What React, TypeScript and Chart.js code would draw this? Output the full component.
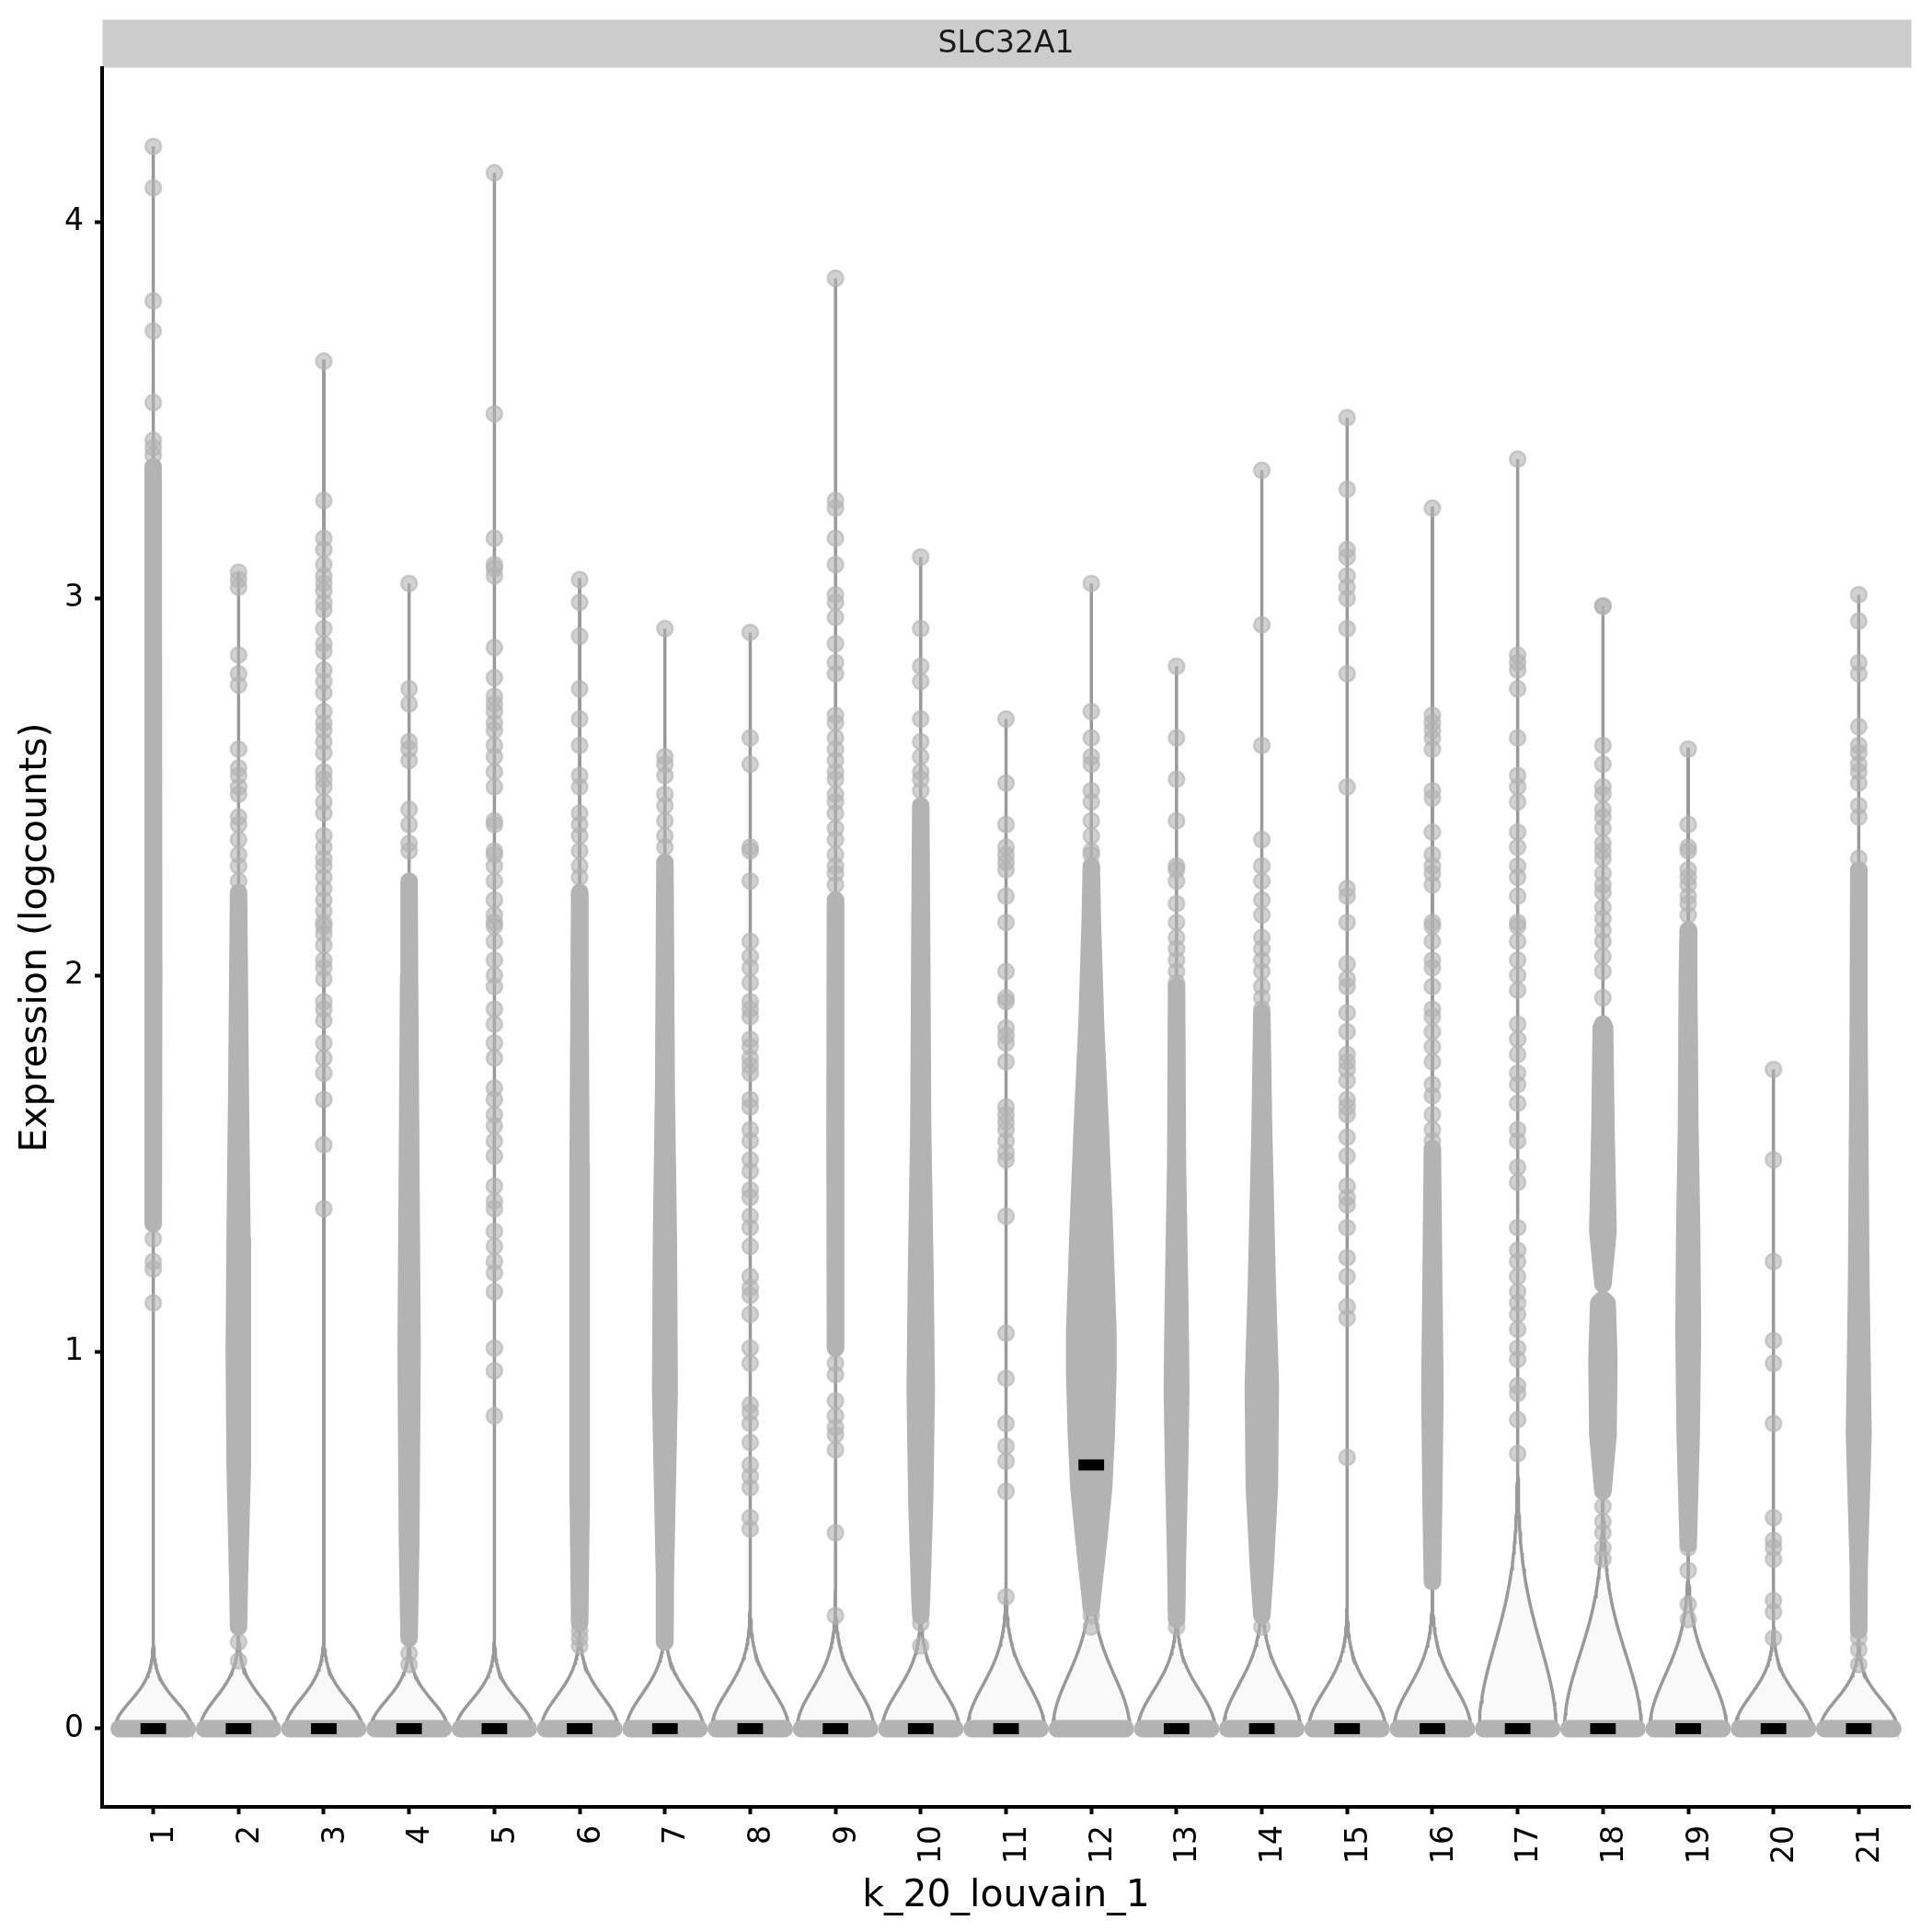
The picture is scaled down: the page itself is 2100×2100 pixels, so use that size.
import React, { useEffect, useRef } from "react";
import { Chart, registerables } from "chart.js";

Chart.register(...registerables);

// ---------------- data ----------------
const clusterLabels = ["1","2","3","4","5","6","7","8","9","10","11","12","13","14","15","16","17","18","19","20","21"];
const yTickValues = [0, 1, 2, 3, 4];
const stripTitle = "SLC32A1";
const xTitle = "k_20_louvain_1";
const yTitle = "Expression (logcounts)";

// median expression per cluster
const medianValues = [0,0,0,0,0,0,0,0,0,0,0,0.70,0,0,0,0,0,0,0,0,0];

// kernel bandwidth of the zero-spike in each violin (logcounts units)
const violinBandwidth = [0.072,0.08,0.078,0.074,0.074,0.085,0.09,0.1,0.105,0.1,0.115,0.14,0.1,0.115,0.1,0.11,0.22,0.195,0.14,0.087,0.075];

// individually visible (non-zero) cells per cluster
const sparsePoints: number[][] = [
  [4.20,4.09,3.79,3.71,3.52,3.42,3.40,3.38,1.30,1.24,1.22,1.13],
  [3.07,3.05,3.03,2.85,2.80,2.77,2.60,2.55,2.53,2.50,2.48,2.42,2.40,2.36,2.32,2.29,2.25,0.23,0.18],
  [3.63,3.26,3.16,3.13,3.09,3.06,3.04,3.02,2.99,2.97,2.92,2.88,2.86,2.81,2.78,2.75,2.70,2.67,2.65,2.62,2.59,2.54,2.52,2.50,2.46,2.43,2.37,2.34,2.31,2.29,2.26,2.23,2.20,2.17,2.14,2.13,2.11,2.08,2.04,2.02,1.99,1.93,1.91,1.88,1.82,1.78,1.74,1.67,1.55,1.38],
  [3.04,2.76,2.72,2.62,2.60,2.57,2.44,2.40,2.35,2.33,0.20,0.17],
  [4.13,3.49,3.16,3.09,3.08,3.06,2.87,2.79,2.74,2.72,2.70,2.67,2.65,2.61,2.58,2.54,2.50,2.41,2.40,2.33,2.32,2.29,2.25,2.20,2.16,2.14,2.13,2.09,2.04,2.00,1.97,1.91,1.87,1.82,1.78,1.70,1.67,1.63,1.60,1.56,1.52,1.44,1.40,1.38,1.32,1.28,1.24,1.21,1.16,1.01,0.95,0.83],
  [3.05,2.99,2.90,2.76,2.68,2.61,2.53,2.50,2.43,2.40,2.37,2.33,2.29,2.26,0.26,0.24,0.22],
  [2.92,2.58,2.56,2.53,2.48,2.45,2.41,2.37,2.34],
  [2.91,2.63,2.56,2.34,2.33,2.25,2.09,2.05,2.02,1.98,1.93,1.91,1.89,1.83,1.81,1.78,1.76,1.74,1.67,1.65,1.59,1.56,1.51,1.48,1.43,1.41,1.36,1.33,1.28,1.20,1.17,1.15,1.10,1.01,0.97,0.86,0.84,0.81,0.76,0.70,0.67,0.64,0.56,0.53],
  [3.85,3.26,3.24,3.16,3.09,3.01,2.99,2.95,2.88,2.83,2.80,2.69,2.67,2.63,2.60,2.57,2.54,2.52,2.48,2.46,2.43,2.39,2.36,2.32,2.29,2.27,2.24,0.97,0.94,0.87,0.83,0.80,0.78,0.74,0.52,0.30],
  [3.11,2.92,2.82,2.78,2.68,2.62,2.58,2.54,2.52,2.49,0.28,0.22],
  [2.68,2.51,2.40,2.34,2.32,2.30,2.28,2.21,2.14,2.01,1.94,1.93,1.86,1.84,1.82,1.77,1.65,1.63,1.61,1.59,1.56,1.53,1.51,1.36,1.05,0.93,0.81,0.75,0.71,0.63,0.35],
  [3.04,2.70,2.63,2.58,2.56,2.49,2.46,2.41,2.37,2.33,2.32,0.30,0.27],
  [2.82,2.63,2.52,2.41,2.29,2.28,2.25,2.19,2.14,2.10,2.07,2.04,2.01,1.98,0.27],
  [3.34,2.93,2.61,2.36,2.29,2.25,2.20,2.16,2.10,2.07,2.04,2.01,1.97,1.94,1.91,0.27],
  [3.48,3.29,3.13,3.11,3.06,3.03,3.00,2.92,2.80,2.50,2.23,2.21,2.14,2.03,1.99,1.97,1.90,1.85,1.79,1.77,1.75,1.72,1.67,1.65,1.63,1.57,1.52,1.44,1.41,1.39,1.33,1.25,1.20,1.12,1.09,0.72],
  [3.24,2.69,2.67,2.65,2.63,2.60,2.49,2.47,2.38,2.32,2.29,2.27,2.24,2.14,2.13,2.09,2.04,2.02,1.97,1.91,1.89,1.85,1.81,1.77,1.71,1.68,1.63,1.59,1.56],
  [3.37,2.85,2.83,2.81,2.76,2.63,2.53,2.50,2.46,2.38,2.34,2.29,2.26,2.21,2.14,2.13,2.09,2.04,2.00,1.96,1.87,1.83,1.79,1.74,1.71,1.66,1.59,1.56,1.49,1.45,1.33,1.27,1.24,1.20,1.16,1.13,1.10,1.06,1.01,0.98,0.91,0.89,0.82,0.73],
  [2.98,2.98,2.61,2.56,2.50,2.48,2.44,2.42,2.39,2.35,2.33,2.31,2.27,2.24,2.22,2.18,2.15,2.12,2.09,2.05,2.01,1.94,1.87,0.59,0.55,0.52,0.48,0.45],
  [2.60,2.40,2.34,2.33,2.28,2.26,2.24,2.21,2.19,2.16,0.48,0.42,0.33,0.29],
  [1.75,1.51,1.24,1.03,0.97,0.81,0.56,0.50,0.48,0.45,0.34,0.31,0.24],
  [3.01,2.94,2.83,2.80,2.66,2.61,2.59,2.56,2.54,2.51,2.45,2.42,2.31,0.24,0.21,0.17],
];

// dense, overlapping runs of cells: [value, half spread of the point cloud (category units)]
const denseBodies: [number, number][][][] = [
  [[[1.34,0],[2.0,0.005],[3.35,0]]],
  [[[0.27,0],[0.4,0.01],[0.7,0.04],[1.0,0.05],[1.3,0.04],[1.7,0.02],[2.22,0]]],
  [],
  [[[0.24,0],[0.5,0.02],[1.0,0.035],[1.5,0.02],[2.0,0.005],[2.25,0]]],
  [],
  [[[0.28,0],[0.6,0.015],[1.0,0.02],[1.5,0.015],[2.0,0.005],[2.22,0]]],
  [[[0.23,0],[0.4,0.005],[0.9,0.05],[1.3,0.04],[1.7,0.015],[2.3,0]]],
  [],
  [[[1.01,0],[1.6,0.005],[2.2,0]]],
  [[[0.3,0],[0.35,0.01],[0.6,0.045],[0.9,0.065],[1.2,0.05],[1.6,0.022],[2.1,0.01],[2.45,0]]],
  [],
  [[[0.32,0],[0.365,0.02],[0.5,0.085],[0.64,0.145],[0.78,0.175],[0.95,0.195],[1.05,0.195],[1.32,0.155],[1.6,0.105],[1.87,0.05],[2.15,0.012],[2.29,0]]],
  [[[0.29,0],[0.45,0.01],[0.7,0.035],[0.9,0.05],[1.1,0.04],[1.5,0.01],[1.97,0]]],
  [[[0.3,0],[0.43,0.04],[0.64,0.088],[0.91,0.1],[1.19,0.062],[1.6,0.02],[1.9,0]]],
  [],
  [[[0.39,0],[0.6,0.015],[0.9,0.03],[1.2,0.015],[1.54,0]]],
  [],
  [[[1.18,0],[1.32,0.06],[1.6,0.035],[1.86,0.02],[1.87,0]], [[0.63,0],[0.78,0.06],[0.98,0.07],[1.13,0.05],[1.14,0]]],
  [[[0.49,0],[0.57,0.01],[0.78,0.035],[1.05,0.05],[1.33,0.04],[1.6,0.02],[2.0,0.01],[2.12,0]]],
  [],
  [[[0.26,0],[0.43,0.005],[0.78,0.05],[1.19,0.025],[1.87,0.005],[2.28,0]]],
];

// ---------------- styling ----------------
const FONT = "'DejaVu Sans', 'Liberation Sans', sans-serif";
const POINT_COL = "rgba(179,179,179,0.6)";
const BODY_COL = "#b3b3b3";
const VIOLIN_LINE = "#999999";
const VIOLIN_FILL = "#f9f9f9";
const VIOLIN_HALF = 0.45;
const ZERO_JITTER = 0.4;
const MEDIAN_HALF = 0.15;

function violinOutline(c: number, bw: number, top: number) {
  const hw = (y: number) => Math.max(VIOLIN_HALF * Math.exp(-0.5 * (y / bw) * (y / bw)), 0.0012);
  const yEnd = Math.min(top, bw * 4.5);
  const n = 70;
  const left: { x: number; y: number }[] = [];
  const right: { x: number; y: number }[] = [];
  for (let i = 0; i <= n; i++) {
    const y = (yEnd * i) / n;
    left.push({ x: c - hw(y), y });
    right.push({ x: c + hw(y), y });
  }
  if (top > yEnd) {
    left.push({ x: c - 0.0012, y: top });
    right.push({ x: c + 0.0012, y: top });
  }
  return [...left, ...right.reverse(), left[0]];
}

function bodyOutline(c: number, profile: [number, number][]) {
  const left = profile.map(([y, s]) => ({ x: c - s, y }));
  const right = profile.map(([y, s]) => ({ x: c + s, y })).reverse();
  return [...left, ...right, left[0]];
}

function buildDatasets() {
  const ds: any[] = [];
  clusterLabels.forEach((_, i) => {
    const c = i + 1;
    const bodyTops = denseBodies[i].map((p) => Math.max(...p.map((q) => q[0])));
    const top = Math.max(...sparsePoints[i], ...bodyTops, 0);
    ds.push({
      data: violinOutline(c, violinBandwidth[i], top),
      showLine: true,
      fill: "shape",
      backgroundColor: VIOLIN_FILL,
      borderColor: VIOLIN_LINE,
      borderWidth: 3.5,
      pointRadius: 0,
      tension: 0,
      order: 50,
    });
    denseBodies[i].forEach((profile) => {
      ds.push({
        data: bodyOutline(c, profile),
        showLine: true,
        fill: "shape",
        backgroundColor: BODY_COL,
        borderColor: BODY_COL,
        borderWidth: 19,
        borderJoinStyle: "round",
        borderCapStyle: "round",
        pointRadius: 0,
        tension: 0,
        order: 40,
      });
    });
    ds.push({
      data: [{ x: c - ZERO_JITTER, y: 0 }, { x: c + ZERO_JITTER, y: 0 }],
      showLine: true,
      borderColor: BODY_COL,
      borderWidth: 19,
      borderCapStyle: "round",
      pointRadius: 0,
      order: 20,
    });
    ds.push({
      data: [{ x: c - MEDIAN_HALF, y: medianValues[i] }, { x: c + MEDIAN_HALF, y: medianValues[i] }],
      showLine: true,
      borderColor: "#000000",
      borderWidth: 12,
      borderCapStyle: "butt",
      pointRadius: 0,
      order: 0,
    });
  });
  ds.push({
    data: sparsePoints.flatMap((vals, i) => vals.map((v) => ({ x: i + 1, y: v }))),
    showLine: false,
    pointRadius: 8.5,
    pointBorderWidth: 2.5,
    pointBackgroundColor: POINT_COL,
    pointBorderColor: POINT_COL,
    order: 30,
  });
  return ds;
}

const decorPlugin = {
  id: "decor",
  beforeDraw(chart: any) {
    const { ctx, chartArea } = chart;
    ctx.save();
    ctx.fillStyle = "#ffffff";
    ctx.fillRect(0, 0, chart.width, chart.height);
    // facet strip
    ctx.fillStyle = "#cccccc";
    ctx.fillRect(chartArea.left, 21, chartArea.right - chartArea.left + 2, chartArea.top - 21);
    ctx.strokeStyle = "#e3e3e3";
    ctx.lineWidth = 1;
    ctx.strokeRect(chartArea.left + 0.5, 21.5, chartArea.right - chartArea.left + 1, chartArea.top - 22);
    ctx.fillStyle = "#1a1a1a";
    ctx.font = `33px ${FONT}`;
    ctx.textAlign = "center";
    ctx.textBaseline = "middle";
    ctx.fillText(stripTitle, (chartArea.left + chartArea.right) / 2, (21 + chartArea.top) / 2 + 1);
    ctx.restore();
  },
  afterDraw(chart: any) {
    const { ctx, chartArea } = chart;
    ctx.save();
    ctx.fillStyle = "#000000";
    ctx.font = `41px ${FONT}`;
    ctx.textAlign = "center";
    ctx.textBaseline = "alphabetic";
    ctx.fillText(xTitle, (chartArea.left + chartArea.right) / 2, 2072);
    ctx.translate(50, (chartArea.top + chartArea.bottom) / 2);
    ctx.rotate(-Math.PI / 2);
    ctx.fillText(yTitle, 0, 0);
    ctx.restore();
  },
};

export default function App() {
  const ref = useRef<HTMLCanvasElement>(null);
  useEffect(() => {
    document.body.style.margin = "0";
    const tickGrid = {
      display: true,
      drawOnChartArea: false,
      drawTicks: true,
      tickLength: 8,
      tickWidth: 4,
      tickColor: "#000000",
    };
    const chart = new Chart(ref.current as HTMLCanvasElement, {
      type: "scatter",
      data: { datasets: buildDatasets() },
      options: {
        responsive: false,
        devicePixelRatio: 1,
        animation: false,
        events: [],
        layout: { padding: { top: 74, right: 24, left: 0, bottom: 0 } },
        plugins: { legend: { display: false }, tooltip: { enabled: false } },
        scales: {
          x: {
            type: "linear",
            min: 0.4,
            max: 21.6,
            afterBuildTicks: (s: any) => {
              s.ticks = clusterLabels.map((_, i) => ({ value: i + 1 }));
            },
            afterFit: (s: any) => {
              s.height = 136;
            },
            ticks: {
              callback: (v: any) => clusterLabels[Math.round(Number(v)) - 1],
              autoSkip: false,
              minRotation: 90,
              maxRotation: 90,
              padding: 12,
              labelOffset: 13,
              color: "#000000",
              font: { family: FONT, size: 33 },
            },
            grid: tickGrid as any,
            border: { display: true, color: "#000000", width: 4 },
          },
          y: {
            type: "linear",
            min: -0.2076,
            max: 4.408,
            afterBuildTicks: (s: any) => {
              s.ticks = yTickValues.map((v) => ({ value: v }));
            },
            afterFit: (s: any) => {
              s.width = 111;
            },
            ticks: {
              callback: (v: any) => String(v),
              padding: 12,
              color: "#000000",
              font: { family: FONT, size: 33 },
            },
            grid: tickGrid as any,
            border: { display: true, color: "#000000", width: 4 },
          },
        },
      },
      plugins: [decorPlugin],
    } as any);
    return () => chart.destroy();
  }, []);
  return (
    <div style={{ position: "absolute", left: 0, top: 0, width: 2100, height: 2100 }}>
      <canvas ref={ref} width={2100} height={2100} style={{ width: 2100, height: 2100, display: "block" }} />
    </div>
  );
}
